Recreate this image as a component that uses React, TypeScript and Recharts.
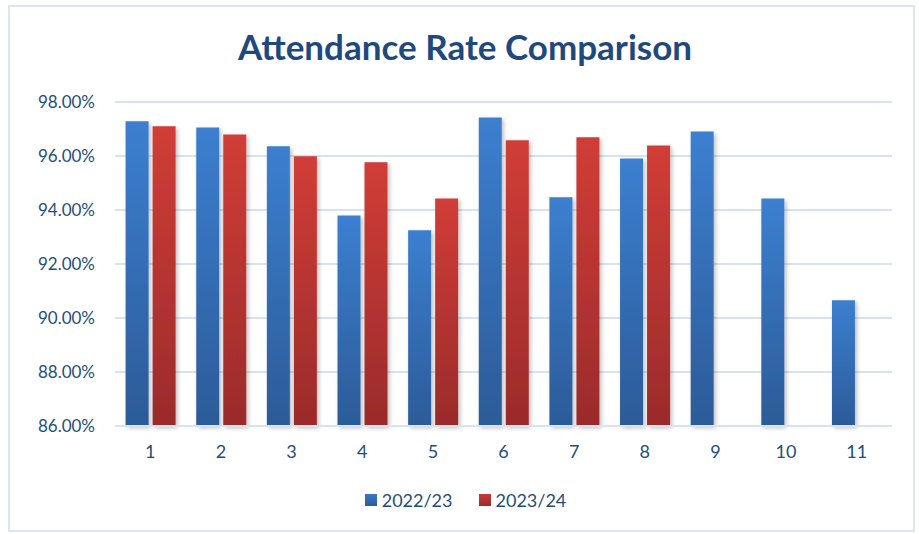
import React from "react";
import { Bar, BarChart, CartesianGrid, Legend, XAxis, YAxis } from "recharts";

const periods = ["1", "2", "3", "4", "5", "6", "7", "8", "9", "10", "11"];
const rate2223 = [97.29, 97.06, 96.36, 93.8, 93.25, 97.43, 94.47, 95.91, 96.91, 94.43, 90.66];
const rate2324: (number | null)[] = [97.1, 96.8, 95.99, 95.77, 94.43, 96.58, 96.69, 96.39, null, null, null];
const yTicks = [86, 88, 90, 92, 94, 96, 98];

const data = periods.map((p, i) => ({ period: p, y2223: rate2223[i], y2324: rate2324[i] }));

const FONT = "Lato, 'Open Sans', sans-serif";
const TEXT = "#1F4E79";

const legendItems = [
  { label: "2022/23", top: "#3A78C4", bottom: "#2C5C9A" },
  { label: "2023/24", top: "#C93A35", bottom: "#9B2C2C" },
];

function LegendContent() {
  return (
    <div style={{ display: "flex", justifyContent: "center", gap: 26, fontFamily: FONT, fontSize: 18, color: TEXT, paddingLeft: 12 }}>
      {legendItems.map((it) => (
        <div key={it.label} style={{ display: "flex", alignItems: "center" }}>
          <span
            style={{
              display: "inline-block",
              width: 12,
              height: 12,
              marginRight: 5,
              background: `linear-gradient(${it.top}, ${it.bottom})`,
            }}
          />
          {it.label}
        </div>
      ))}
    </div>
  );
}

export default function App() {
  return (
    <div style={{ position: "absolute", left: 0, top: 0, width: 919, height: 534, background: "#fff" }}>
      <div
        style={{
          position: "absolute",
          left: 8,
          top: 5,
          width: 907,
          height: 527,
          border: "2px solid #DCE6F2",
          boxSizing: "border-box",
        }}
      />
      <div
        style={{
          position: "absolute",
          top: 25,
          left: 0,
          width: 930,
          textAlign: "center",
          fontFamily: FONT,
          fontWeight: 700,
          fontSize: 35,
          color: "#1F497D",
        }}
      >
        Attendance Rate Comparison
      </div>
      <BarChart
        width={919}
        height={534}
        data={data}
        margin={{ top: 102, right: 27, bottom: 0, left: 0 }}
        barCategoryGap="15%"
        barGap={4}
        style={{ position: "absolute", left: 0, top: 0 }}
      >
        <defs>
          <linearGradient id="gBlue" x1="0" y1="0" x2="0" y2="1">
            <stop offset="0%" stopColor="#3C7FD0" />
            <stop offset="100%" stopColor="#2C5B98" />
          </linearGradient>
          <linearGradient id="gRed" x1="0" y1="0" x2="0" y2="1">
            <stop offset="0%" stopColor="#D13D37" />
            <stop offset="100%" stopColor="#9A2B2B" />
          </linearGradient>
          <filter id="shadow" x="-20%" y="-5%" width="150%" height="115%">
            <feDropShadow dx="2" dy="2" stdDeviation="2" floodColor="#000" floodOpacity="0.25" />
          </filter>
        </defs>
        <CartesianGrid vertical={false} stroke="#D8E3F1" strokeWidth={2} />
        <XAxis
          dataKey="period"
          axisLine={{ stroke: "#D8E3F1", strokeWidth: 2 }}
          tickLine={false}
          tickSize={0}
          tickMargin={19}
          height={86}
          tick={{ fill: TEXT, fontSize: 18, fontFamily: FONT }}
        />
        <YAxis
          domain={[86, 98]}
          ticks={yTicks}
          axisLine={false}
          tickLine={false}
          tickSize={0}
          tickMargin={20}
          width={115}
          tickFormatter={(v: number) => `${v.toFixed(2)}%`}
          tick={{ fill: TEXT, fontSize: 17, fontFamily: FONT }}
        />
        <Legend
          verticalAlign="bottom"
          content={<LegendContent />}
          wrapperStyle={{ position: "absolute", top: 489, left: 0, width: 919, height: 22 }}
        />
        <Bar dataKey="y2223" name="2022/23" fill="url(#gBlue)" filter="url(#shadow)" isAnimationActive={false} />
        <Bar dataKey="y2324" name="2023/24" fill="url(#gRed)" filter="url(#shadow)" isAnimationActive={false} />
      </BarChart>
    </div>
  );
}
